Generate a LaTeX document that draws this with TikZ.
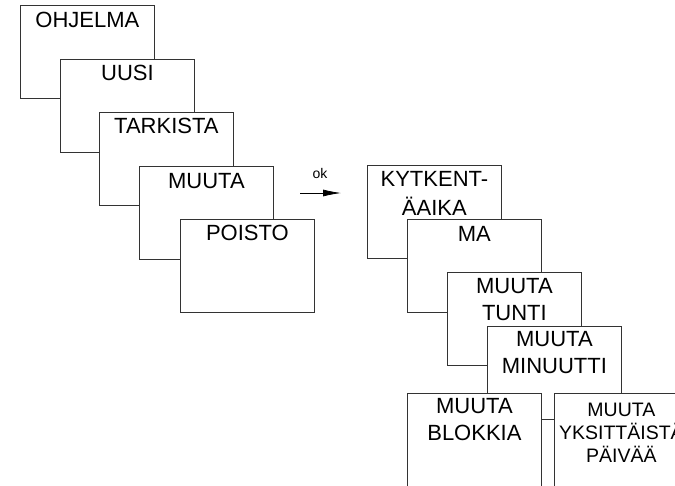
\documentclass[tikz,border=0pt]{standalone}
\usepackage{fontspec}
\setmainfont{Liberation Sans}
\usetikzlibrary{arrows.meta, positioning}

\begin{document}
\begin{tikzpicture}[x=1pt, y=-1pt,
    screen/.style = {draw=black!80, line width=0.8pt, fill=white, rectangle,
      minimum width=134pt, minimum height=93pt, anchor=north west, inner sep=0pt},
    menutext/.style = {anchor=north, align=center, inner sep=0pt,
      font=\fontsize{22}{27.5}\selectfont},
    smalltext/.style = {anchor=north, align=center, inner sep=0pt,
      font=\fontsize{19.5}{23}\selectfont}]
    \useasboundingbox (0,0) rectangle (675,485);

    % main menu
    \node (ohjelma) [screen] at (20,5) {};
    \node (ohjelmat) [menutext] at ([yshift=-7pt]ohjelma.north) {OHJELMA};
    \node (uusi) [screen] at (60,59) {};
    \node (uusit) [menutext] at ([yshift=-6pt]uusi.north) {UUSI};
    \node (tarkista) [screen] at (99,112) {};
    \node (tarkistat) [menutext] at ([yshift=-6pt]tarkista.north) {TARKISTA};
    \node (muuta) [screen] at (139,166) {};
    \node (muutat) [menutext] at ([yshift=-7pt]muuta.north) {MUUTA};
    \node (poisto) [screen] at (180,219) {};
    \node (poistot) [menutext] at ([yshift=-6pt]poisto.north) {POISTO};

    % ok arrow
    \coordinate (okstart) at (300,193);
    \coordinate (okend) at (341,193);
    \draw [-{Latex[length=18pt,width=7pt]}, line width=0.8pt] (okstart) -- (okend);
    \node (okt) [anchor=base, inner sep=0pt, font=\fontsize{14}{16}\selectfont]
      at (320,178) {ok};

    % switching time menu
    \node (kytkentaika) [screen] at (367,165) {};
    \node (kytkentaikat) [menutext, font=\fontsize{22}{29.5}\selectfont]
      at ([yshift=-6pt]kytkentaika.north) {KYTKENT-\\ÄAIKA};
    \node (ma) [screen] at (407,219) {};
    \node (mat) [menutext] at ([yshift=-7pt]ma.north) {MA};
    \node (tunti) [screen] at (447,272) {};
    \node (tuntit) [menutext] at ([yshift=-6pt]tunti.north) {MUUTA\\TUNTI};
    \node (minuutti) [screen] at (487,326) {};
    \node (minuuttit) [menutext] at ([yshift=-5pt]minuutti.north) {MUUTA\\MINUUTTI};
    \node (blokkia) [screen] at (407,393) {};
    \node (blokkiat) [menutext] at ([yshift=-5pt]blokkia.north) {MUUTA\\BLOKKIA};
    \node (paiva) [screen] at (554,393) {};
    \node (paivat) [smalltext] at ([yshift=-10pt]paiva.north) {MUUTA\\YKSITTÄISTÄ\\PÄIVÄÄ};
\end{tikzpicture}
\end{document}
